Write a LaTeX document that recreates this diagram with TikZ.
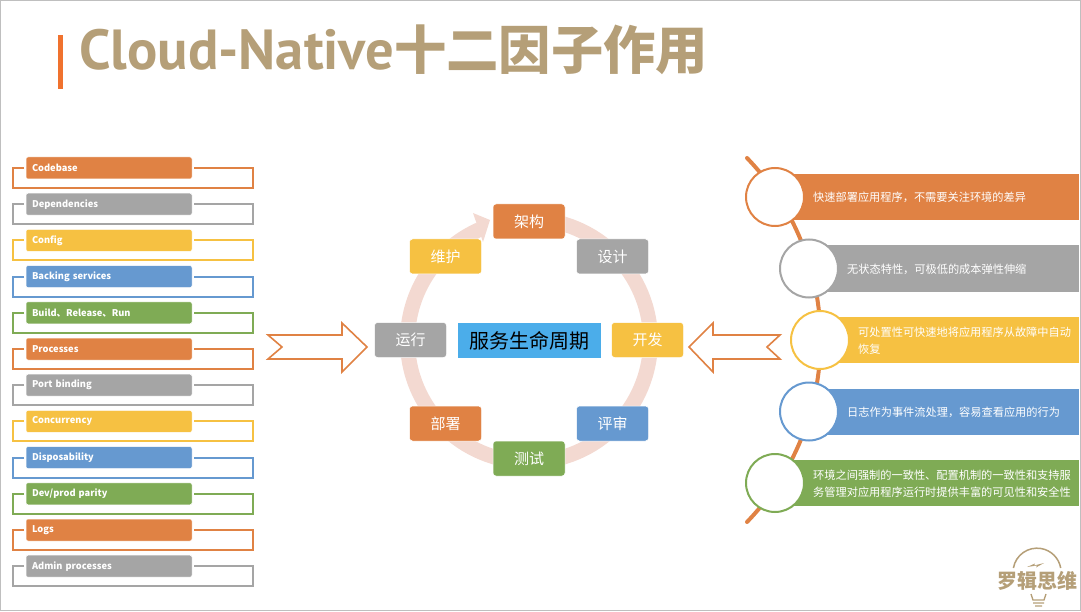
\documentclass[tikz,border=0pt]{standalone}
\usepackage{fontspec}
\setmainfont{Noto Sans CJK SC}
\newfontfamily\titlefont[Scale=1.08]{PT Sans}
\usepackage{tikz}
\usetikzlibrary{arrows.meta,positioning,calc}
\definecolor{orangeC}{HTML}{E08244}
\definecolor{grayC}{HTML}{A5A5A5}
\definecolor{yellowC}{HTML}{F6C142}
\definecolor{blueC}{HTML}{6699D0}
\definecolor{greenC}{HTML}{7FAB55}
\definecolor{tanC}{HTML}{B59F78}
\definecolor{ringC}{HTML}{F3D9D1}
\definecolor{hubC}{HTML}{4BADEA}
\definecolor{markC}{HTML}{F0722E}
\newcommand{\widecomma}{\symbol{"FF0C}}
\begin{document}
\begin{tikzpicture}[x=1pt, y=-1pt, node distance=10.2pt,
  tag/.style={draw=white, line width=0.5pt, outer sep=2pt, rounded corners=2pt, inner xsep=6pt, inner ysep=0pt, minimum height=22pt, text=white, font=\fontsize{9.3}{11}\selectfont\bfseries, text width=154pt, align=left},
  stage/.style={rounded corners=3pt, draw=white, line width=0.5pt, minimum width=72pt, minimum height=35pt, text=white, font=\fontsize{15}{18}\selectfont},
  bar/.style={anchor=west, minimum height=46pt},
  ball/.style={circle, fill=white, line width=2pt, minimum size=58pt, inner sep=0pt},
  note/.style={right=8pt of #1, yshift=-0.7pt, inner sep=0pt, text=white, font=\fontsize{11.2}{17}\selectfont, align=left},
  bracket/.style={line width=2pt},
  hollow/.style={draw=orangeC, line width=1.6pt, fill=white}]
\useasboundingbox (0,0) rectangle (1081,612);
\draw[gray!50, line width=1pt] (0.5,0.5) rectangle (1080.5,610.5);

% title
\fill[markC] (58,35) rectangle (63,89);
\node[anchor=west, inner sep=0pt, text=tanC, font=\fontsize{52.3}{60}\selectfont\bfseries] (title) at (79,50) {{\titlefont Cloud-Native}十二因子作用};

% left list
\node[tag, fill=orangeC] (codebase) at (109,168) {Codebase};
\node[tag, fill=grayC, below=of codebase] (dep) {Dependencies};
\node[tag, fill=yellowC, below=of dep] (config) {Config};
\node[tag, fill=blueC, below=of config] (backing) {Backing services};
\node[tag, fill=greenC, below=of backing] (build) {Build、Release、Run};
\node[tag, fill=orangeC, below=of build] (proc) {Processes};
\node[tag, fill=grayC, below=of proc] (port) {Port binding};
\node[tag, fill=yellowC, below=of port] (conc) {Concurrency};
\node[tag, fill=blueC, below=of conc] (disp) {Disposability};
\node[tag, fill=greenC, below=of disp] (parity) {Dev/prod parity};
\node[tag, fill=orangeC, below=of parity] (logs) {Logs};
\node[tag, fill=grayC, below=of logs] (admin) {Admin processes};
\draw[bracket, orangeC] (codebase.west) -- ++(-11,0) -- ++(0,20) -- ++(240,0) -- ++(0,-20) -- (codebase.east);
\draw[bracket, grayC] (dep.west) -- ++(-11,0) -- ++(0,20) -- ++(240,0) -- ++(0,-20) -- (dep.east);
\draw[bracket, yellowC] (config.west) -- ++(-11,0) -- ++(0,20) -- ++(240,0) -- ++(0,-20) -- (config.east);
\draw[bracket, blueC] (backing.west) -- ++(-11,0) -- ++(0,20) -- ++(240,0) -- ++(0,-20) -- (backing.east);
\draw[bracket, greenC] (build.west) -- ++(-11,0) -- ++(0,20) -- ++(240,0) -- ++(0,-20) -- (build.east);
\draw[bracket, orangeC] (proc.west) -- ++(-11,0) -- ++(0,20) -- ++(240,0) -- ++(0,-20) -- (proc.east);
\draw[bracket, grayC] (port.west) -- ++(-11,0) -- ++(0,20) -- ++(240,0) -- ++(0,-20) -- (port.east);
\draw[bracket, yellowC] (conc.west) -- ++(-11,0) -- ++(0,20) -- ++(240,0) -- ++(0,-20) -- (conc.east);
\draw[bracket, blueC] (disp.west) -- ++(-11,0) -- ++(0,20) -- ++(240,0) -- ++(0,-20) -- (disp.east);
\draw[bracket, greenC] (parity.west) -- ++(-11,0) -- ++(0,20) -- ++(240,0) -- ++(0,-20) -- (parity.east);
\draw[bracket, orangeC] (logs.west) -- ++(-11,0) -- ++(0,20) -- ++(240,0) -- ++(0,-20) -- (logs.east);
\draw[bracket, grayC] (admin.west) -- ++(-11,0) -- ++(0,20) -- ++(240,0) -- ++(0,-20) -- (admin.east);

% big arrows
\draw[hollow] (268,335) -- (342,335) -- (342,323) -- (367,347) -- (342,372) -- (342,359) -- (268,359) -- (282,347) -- cycle;
\draw[hollow] (780,335) -- (713,335) -- (713,323) -- (689,347) -- (713,372) -- (713,359) -- (780,359) -- (767,347) -- cycle;

% cycle
\coordinate (hub) at (529,340.5);
\draw[ringC, line width=15pt] (529,219) arc[start angle=-90, end angle=246, radius=121.5];
\fill[ringC] (473,213) -- (490,220) -- (483,242) -- cycle;
\node[fill=hubC, minimum width=143pt, minimum height=35pt, inner sep=0pt, font=\fontsize{20}{24}\selectfont] (center) at (hub) {服务生命周期};
\node[stage, fill=orangeC] (arch) at (529,221.5) {架构};
\node[stage, fill=grayC] (design) at (612.5,256.5) {设计};
\node[stage, fill=yellowC] (dev) at (647.5,340) {开发};
\node[stage, fill=blueC] (review) at (612.5,423.5) {评审};
\node[stage, fill=greenC] (test) at (529,458.5) {测试};
\node[stage, fill=orangeC] (deploy) at (445.5,423.5) {部署};
\node[stage, fill=grayC] (run) at (410.5,340) {运行};
\node[stage, fill=yellowC] (maint) at (445.5,256.5) {维护};

% right side
\coordinate (spine) at (747,158);
\draw[orangeC, line width=4pt, line cap=round] (spine) arc[start angle=-44, end angle=44, radius=262];
\node[bar, fill=orangeC, minimum width=304pt] (b1) at (775,197) {};
\node[bar, fill=grayC, minimum width=270pt] (b2) at (809,268.5) {};
\node[bar, fill=yellowC, minimum width=259pt] (b3) at (820,340) {};
\node[bar, fill=blueC, minimum width=270pt] (b4) at (809,411.5) {};
\node[bar, fill=greenC, minimum width=304pt] (b5) at (775,483) {};
\node[ball, draw=orangeC] (c1) at (775,197) {};
\node[ball, draw=grayC] (c2) at (809,268.5) {};
\node[ball, draw=yellowC] (c3) at (820,340) {};
\node[ball, draw=blueC] (c4) at (809,411.5) {};
\node[ball, draw=greenC] (c5) at (775,483) {};
\node[note=c1] (n1) {快速部署应用程序\widecomma 不需要关注环境的差异};
\node[note=c2] (n2) {无状态特性\widecomma 可极低的成本弹性伸缩};
\node[note=c3] (n3) {可处置性可快速地将应用程序从故障中自动\\恢复};
\node[note=c4] (n4) {日志作为事件流处理\widecomma 容易查看应用的行为};
\node[note=c5] (n5) {环境之间强制的一致性、配置机制的一致性和支持服\\务管理对应用程序运行时提供丰富的可见性和安全性};

% logo
\node[text=tanC, font=\fontsize{20}{22}\selectfont\bfseries, inner sep=0pt] (logo) at (1037.5,581) {罗辑思维};
\draw[tanC, line width=1.5pt] (1013.4,568) arc[start angle=190, end angle=350, radius=24];
\fill[tanC] (1027,567) -- (1035,563.5) -- (1034,565.5) -- (1044,563) -- (1036,567.5) -- (1037,565.5) -- cycle;
\draw[tanC, line width=1.3pt] (1031,594) -- (1033,600) -- (1044,600) -- (1046,594) (1033,603) -- (1044,603) (1035,606) -- (1042,606);
\end{tikzpicture}
\end{document}
